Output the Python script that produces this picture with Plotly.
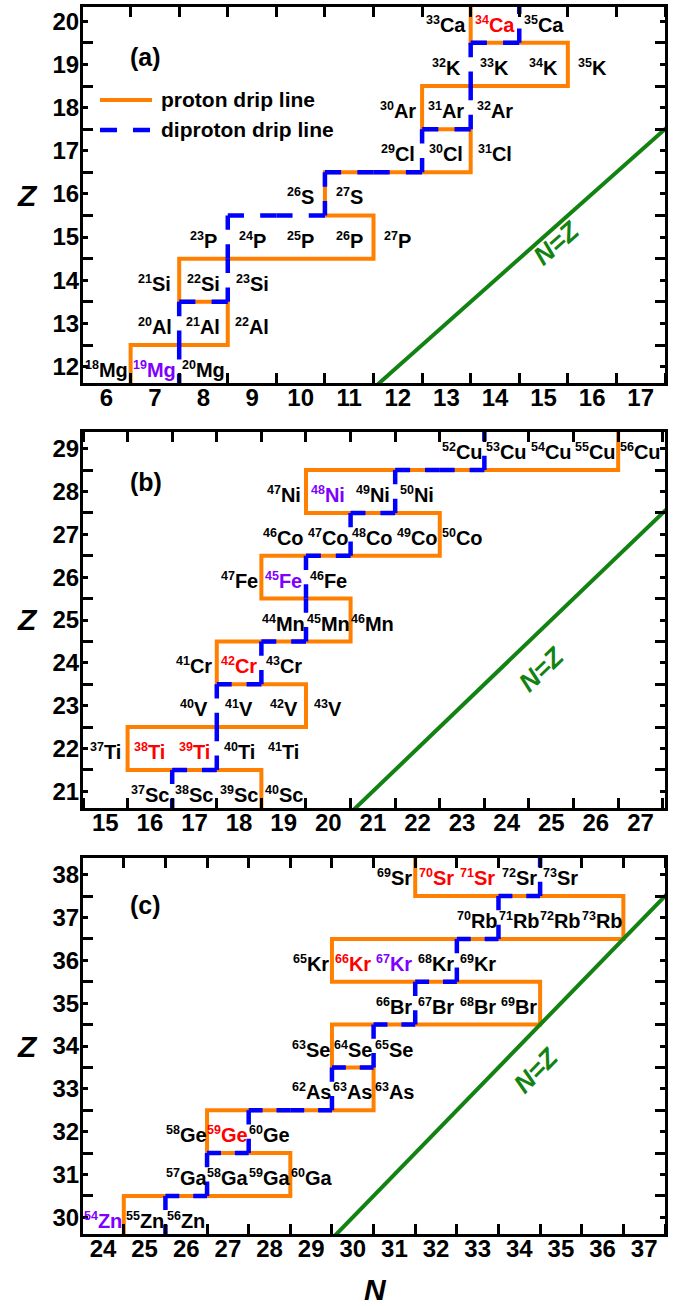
import re
import math
import plotly.graph_objects as go

W, H = 685, 1306

# ---------------- data ----------------
# Panel (a)
A_NUCLIDES = ["18Mg", "19Mg", "20Mg",
              "20Al", "21Al", "22Al",
              "21Si", "22Si", "23Si",
              "23P", "24P", "25P", "26P", "27P",
              "26S", "27S",
              "29Cl", "30Cl", "31Cl",
              "30Ar", "31Ar", "32Ar",
              "32K", "33K", "34K", "35K",
              "33Ca", "34Ca", "35Ca"]
A_N = [6, 7, 8, 7, 8, 9, 7, 8, 9, 8, 9, 10, 11, 12, 10, 11, 12, 13, 14,
       12, 13, 14, 13, 14, 15, 16, 13, 14, 15]
A_Z = [12, 12, 12, 13, 13, 13, 14, 14, 14, 15, 15, 15, 15, 15, 16, 16, 17, 17, 17,
       18, 18, 18, 19, 19, 19, 19, 20, 20, 20]
A_RED = ["34Ca"]
A_PURPLE = ["19Mg"]
A_PROTON_N = [6.5, 6.5, 8.5, 8.5, 7.5, 7.5, 11.5, 11.5, 10.5, 10.5, 13.5, 13.5,
              12.5, 12.5, 15.5, 15.5, 13.5, 13.5]
A_PROTON_Z = [11.5, 12.5, 12.5, 13.5, 13.5, 14.5, 14.5, 15.5, 15.5, 16.5, 16.5, 17.5,
              17.5, 18.5, 18.5, 19.5, 19.5, 20.5]
A_DIPROTON_N = [7.5, 7.5, 8.5, 8.5, 10.5, 10.5, 12.5, 12.5, 13.5, 13.5, 14.5, 14.5]
A_DIPROTON_Z = [11.5, 13.5, 13.5, 15.5, 15.5, 16.5, 16.5, 17.5, 17.5, 19.5, 19.5, 20.5]
A_N_TICKS = list(range(6, 18))
A_Z_TICKS = list(range(12, 21))

# Panel (b)
B_NUCLIDES = ["37Sc", "38Sc", "39Sc", "40Sc",
              "37Ti", "38Ti", "39Ti", "40Ti", "41Ti",
              "40V", "41V", "42V", "43V",
              "41Cr", "42Cr", "43Cr",
              "44Mn", "45Mn", "46Mn",
              "47Fe", "45Fe", "46Fe",
              "46Co", "47Co", "48Co", "49Co", "50Co",
              "47Ni", "48Ni", "49Ni", "50Ni",
              "52Cu", "53Cu", "54Cu", "55Cu", "56Cu"]
B_N = [16, 17, 18, 19, 15, 16, 17, 18, 19, 17, 18, 19, 20, 17, 18, 19, 19, 20, 21,
       18, 19, 20, 19, 20, 21, 22, 23, 19, 20, 21, 22, 23, 24, 25, 26, 27]
B_Z = [21, 21, 21, 21, 22, 22, 22, 22, 22, 23, 23, 23, 23, 24, 24, 24, 25, 25, 25,
       26, 26, 26, 27, 27, 27, 27, 27, 28, 28, 28, 28, 29, 29, 29, 29, 29]
B_RED = ["38Ti", "39Ti", "42Cr"]
B_PURPLE = ["45Fe", "48Ni"]
B_PROTON_N = [18.5, 18.5, 15.5, 15.5, 19.5, 19.5, 17.5, 17.5, 20.5, 20.5, 18.5, 18.5,
              22.5, 22.5, 19.5, 19.5, 26.5, 26.5]
B_PROTON_Z = [20.5, 21.5, 21.5, 22.5, 22.5, 23.5, 23.5, 24.5, 24.5, 25.5, 25.5, 26.5,
              26.5, 27.5, 27.5, 28.5, 28.5, 29.5]
B_DIPROTON_N = [16.5, 16.5, 17.5, 17.5, 18.5, 18.5, 19.5, 19.5, 20.5, 20.5, 21.5, 21.5,
                23.5, 23.5]
B_DIPROTON_Z = [20.5, 21.5, 21.5, 23.5, 23.5, 24.5, 24.5, 26.5, 26.5, 27.5, 27.5, 28.5,
                28.5, 29.5]
B_N_TICKS = list(range(15, 28))
B_Z_TICKS = list(range(21, 30))

# Panel (c)
C_NUCLIDES = ["54Zn", "55Zn", "56Zn",
              "57Ga", "58Ga", "59Ga", "60Ga",
              "58Ge", "59Ge", "60Ge",
              "62As", "63As", "63As",
              "63Se", "64Se", "65Se",
              "66Br", "67Br", "68Br", "69Br",
              "65Kr", "66Kr", "67Kr", "68Kr", "69Kr",
              "70Rb", "71Rb", "72Rb", "73Rb",
              "69Sr", "70Sr", "71Sr", "72Sr", "73Sr"]
C_N = [24, 25, 26, 26, 27, 28, 29, 26, 27, 28, 29, 30, 31, 29, 30, 31, 31, 32, 33, 34,
       29, 30, 31, 32, 33, 33, 34, 35, 36, 31, 32, 33, 34, 35]
C_Z = [30, 30, 30, 31, 31, 31, 31, 32, 32, 32, 33, 33, 33, 34, 34, 34, 35, 35, 35, 35,
       36, 36, 36, 36, 36, 37, 37, 37, 37, 38, 38, 38, 38, 38]
C_RED = ["59Ge", "66Kr", "70Sr", "71Sr"]
C_PURPLE = ["54Zn", "67Kr"]
C_PROTON_N = [24.5, 24.5, 28.5, 28.5, 26.5, 26.5, 30.5, 30.5, 29.5, 29.5, 34.5, 34.5,
              29.5, 29.5, 36.5, 36.5, 31.5, 31.5]
C_PROTON_Z = [29.5, 30.5, 30.5, 31.5, 31.5, 32.5, 32.5, 33.5, 33.5, 34.5, 34.5, 35.5,
              35.5, 36.5, 36.5, 37.5, 37.5, 38.5]
C_DIPROTON_N = [25.5, 25.5, 26.5, 26.5, 27.5, 27.5, 29.5, 29.5, 30.5, 30.5, 31.5, 31.5,
                32.5, 32.5, 33.5, 33.5, 34.5, 34.5]
C_DIPROTON_Z = [29.5, 30.5, 30.5, 31.5, 31.5, 32.5, 32.5, 33.5, 33.5, 34.5, 34.5, 35.5,
                35.5, 36.5, 36.5, 37.5, 37.5, 38.5]
C_N_TICKS = list(range(24, 38))
C_Z_TICKS = list(range(30, 39))

# ---------------- style / layout ----------------
FONT = "Liberation Sans"
ORANGE = "#FF8000"
BLUE = "#0000FF"
GREEN = "#128212"
RED = "#FF0000"
PURPLE = "#8000FF"
LEFT, RIGHT = 83, 665

PANELS = [
    dict(tag="(a)", nuc=A_NUCLIDES, n=A_N, z=A_Z, red=A_RED, purple=A_PURPLE,
         pn=A_PROTON_N, pz=A_PROTON_Z, dn=A_DIPROTON_N, dz=A_DIPROTON_Z,
         nt=A_N_TICKS, zt=A_Z_TICKS, xr=[5.52, 17.5], yr=[11.62, 20.33],
         top=7, bottom=383, tag_px=(145, 57), nz=(15.26, 14.86)),
    dict(tag="(b)", nuc=B_NUCLIDES, n=B_N, z=B_Z, red=B_RED, purple=B_PURPLE,
         pn=B_PROTON_N, pz=B_PROTON_Z, dn=B_DIPROTON_N, dz=B_DIPROTON_Z,
         nt=B_N_TICKS, zt=B_Z_TICKS, xr=[14.5, 27.55], yr=[20.61, 29.39],
         top=432, bottom=808, tag_px=(146, 482), nz=(24.78, 23.85)),
    dict(tag="(c)", nuc=C_NUCLIDES, n=C_N, z=C_Z, red=C_RED, purple=C_PURPLE,
         pn=C_PROTON_N, pz=C_PROTON_Z, dn=C_DIPROTON_N, dz=C_DIPROTON_Z,
         nt=C_N_TICKS, zt=C_Z_TICKS, xr=[23.52, 37.5], yr=[29.61, 38.39],
         top=858, bottom=1234, tag_px=(145, 905), nz=(34.40, 33.45)),
]


def unit_segments(ns, zs):
    """Split a staircase path into one-cell pieces so each piece gets its own dash pattern."""
    hx, hy, vx, vy = [], [], [], []
    for n0, z0, n1, z1 in zip(ns[:-1], zs[:-1], ns[1:], zs[1:]):
        if z0 == z1:
            steps = int(round(abs(n1 - n0)))
            d = 1 if n1 > n0 else -1
            for k in range(steps):
                hx += [n0 + d * k, n0 + d * (k + 1), None]
                hy += [z0, z0, None]
        else:
            steps = int(round(abs(z1 - z0)))
            d = 1 if z1 > z0 else -1
            for k in range(steps):
                vx += [n0, n0, None]
                vy += [z0 + d * k, z0 + d * (k + 1), None]
    return hx, hy, vx, vy


def px_x(px):
    return px / W


def px_y(py):
    return 1 - py / H


fig = go.Figure()
layout_axes = {}

for i, p in enumerate(PANELS):
    sfx = "" if i == 0 else str(i + 1)
    xa, ya = "x" + sfx, "y" + sfx
    ux = (RIGHT - LEFT) / (p["xr"][1] - p["xr"][0])
    uy = (p["bottom"] - p["top"]) / (p["yr"][1] - p["yr"][0])

    # proton drip line
    fig.add_trace(go.Scatter(x=p["pn"], y=p["pz"], mode="lines",
                             line=dict(color=ORANGE, width=4),
                             xaxis=xa, yaxis=ya, hoverinfo="skip", showlegend=False))
    # diproton drip line
    hx, hy, vx, vy = unit_segments(p["dn"], p["dz"])
    ah, av = ux / 3.0, uy / 3.0
    fig.add_trace(go.Scatter(x=hx, y=hy, mode="lines", connectgaps=False,
                             line=dict(color=BLUE, width=4.5,
                                       dash=f"{ah:.1f}px,{ah:.1f}px,{ah:.1f}px,400px"),
                             xaxis=xa, yaxis=ya, hoverinfo="skip", showlegend=False))
    fig.add_trace(go.Scatter(x=vx, y=vy, mode="lines", connectgaps=False,
                             line=dict(color=BLUE, width=4.5,
                                       dash=f"{av:.1f}px,{av:.1f}px,{av:.1f}px,400px"),
                             xaxis=xa, yaxis=ya, hoverinfo="skip", showlegend=False))
    # N = Z line
    lo = min(p["xr"][0], p["yr"][0]) - 1
    hi = max(p["xr"][1], p["yr"][1]) + 1
    fig.add_trace(go.Scatter(x=[lo, hi], y=[lo, hi], mode="lines",
                             line=dict(color=GREEN, width=4),
                             xaxis=xa, yaxis=ya, hoverinfo="skip", showlegend=False))

    # nuclide labels
    for name, n, z in zip(p["nuc"], p["n"], p["z"]):
        m = re.match(r"(\d+)([A-Za-z]+)", name)
        color = RED if name in p["red"] else (PURPLE if name in p["purple"] else "black")
        fig.add_annotation(x=n, y=z, xref=xa, yref=ya, showarrow=False,
                           text=f"<sup><span style='font-size:12.5px'>{m.group(1)}</span></sup>{m.group(2)}",
                           font=dict(family=FONT, size=20, color=color, weight="bold"),
                           xanchor="center", yanchor="middle", yshift=-3)

    # N=Z text
    ang = math.degrees(math.atan2(uy, ux))
    fig.add_annotation(x=p["nz"][0], y=p["nz"][1], xref=xa, yref=ya, showarrow=False,
                       xanchor="center", yanchor="middle",
                       text="<i>N=Z</i>", textangle=-ang,
                       font=dict(family=FONT, size=26, color=GREEN, weight="bold"))

    # panel tag
    fig.add_annotation(x=px_x(p["tag_px"][0]), y=px_y(p["tag_px"][1]), xref="paper", yref="paper",
                       xanchor="center", yanchor="middle", showarrow=False, text=p["tag"],
                       font=dict(family=FONT, size=25, color="black", weight="bold"))
    # Z title
    fig.add_annotation(x=px_x(27), y=px_y((p["top"] + p["bottom"]) / 2), xref="paper", yref="paper",
                       xanchor="center", yanchor="middle", showarrow=False, text="<i>Z</i>",
                       font=dict(family=FONT, size=30, color="black", weight="bold"))

    tickfont = dict(family=FONT, size=24, color="black", weight="bold")
    layout_axes["xaxis" + sfx] = dict(
        domain=[LEFT / W, RIGHT / W], range=p["xr"], anchor=ya,
        tickmode="array", tickvals=p["nt"], ticktext=[str(v) for v in p["nt"]],
        ticks="", ticklabelstandoff=-9,
        showline=True, linewidth=3, linecolor="black", mirror="ticks",
        minor=dict(tickmode="array", tickvals=[v + 0.5 for v in range(int(p["xr"][0]) - 1, int(p["xr"][1]) + 1)],
                   ticks="inside", ticklen=10, tickwidth=3, tickcolor="black", showgrid=False),
        showgrid=False, zeroline=False, tickfont=tickfont, automargin=False, fixedrange=True)
    layout_axes["yaxis" + sfx] = dict(
        domain=[px_y(p["bottom"]), px_y(p["top"])], range=p["yr"], anchor=xa,
        tickmode="array", tickvals=p["zt"], ticktext=[str(v) for v in p["zt"]],
        ticks="inside", ticklen=5, tickwidth=2.5, tickcolor="black", ticklabelstandoff=-4,
        showline=True, linewidth=3, linecolor="black", mirror="ticks",
        minor=dict(tickmode="array", tickvals=[v + 0.5 for v in range(int(p["yr"][0]) - 1, int(p["yr"][1]) + 1)],
                   ticks="inside", ticklen=10, tickwidth=3, tickcolor="black", showgrid=False),
        showgrid=False, zeroline=False, tickfont=tickfont, automargin=False, fixedrange=True)

# N title
fig.add_annotation(x=px_x(375), y=px_y(1289), xref="paper", yref="paper", showarrow=False,
                   xanchor="center", yanchor="middle", text="<i>N</i>",
                   font=dict(family=FONT, size=30, color="black", weight="bold"))

# legend (panel a)
shapes = [
    dict(type="line", xref="paper", yref="paper", x0=px_x(100), x1=px_x(152), y0=px_y(100), y1=px_y(100),
         line=dict(color=ORANGE, width=4)),
    dict(type="line", xref="paper", yref="paper", x0=px_x(100), x1=px_x(152), y0=px_y(130), y1=px_y(130),
         line=dict(color=BLUE, width=4.5, dash="17px,16px")),
]
for label, yy in [("proton drip line", 100), ("diproton drip line", 130)]:
    fig.add_annotation(x=px_x(159), y=px_y(yy), xref="paper", yref="paper", showarrow=False,
                       xanchor="left", yanchor="middle", text=label,
                       font=dict(family=FONT, size=21, color="black", weight="bold"))

fig.update_layout(width=W, height=H, margin=dict(l=0, r=0, t=0, b=0),
                  template="none", plot_bgcolor="white", paper_bgcolor="white",
                  showlegend=False, shapes=shapes, font=dict(family=FONT),
                  **layout_axes)

fig.write_html("out.html")
